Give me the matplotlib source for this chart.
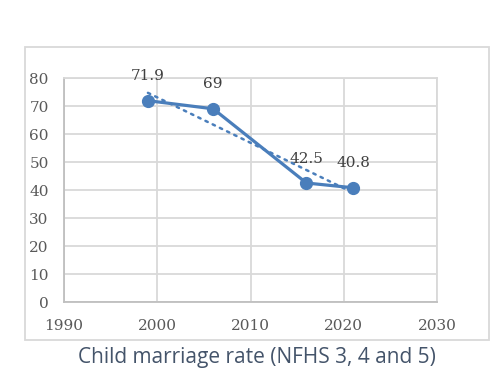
import matplotlib
matplotlib.use("Agg")
import matplotlib.pyplot as plt
import numpy as np
from matplotlib.patches import Rectangle

# ── Datos ────────────────────────────────────────────────────────────────
years = [1999, 2006, 2016, 2021]
rates = [71.9, 69, 42.5, 40.8]
labels = ["71.9", "69", "42.5", "40.8"]
x_ticks = [1990, 2000, 2010, 2020, 2030]
y_ticks = [0, 10, 20, 30, 40, 50, 60, 70, 80]
title = "Child marriage rate (NFHS 3, 4 and 5)"

blue = "#4A7EBB"
grid = "#D9D9D9"

fig = plt.figure(figsize=(5.04, 3.84), dpi=100)

# borde del área del gráfico
fig.patches.append(Rectangle((25 / 504, 1 - 340 / 384), 464 / 504, 293 / 384,
                             transform=fig.transFigure, fill=False,
                             edgecolor=grid, linewidth=1.3))

ax = fig.add_axes([64 / 504, 1 - 302 / 384, 373 / 504, 224 / 384])

# línea de tendencia lineal
coef = np.polyfit(years, rates, 1)
tx = np.array([years[0], years[-1]])
ax.plot(tx, np.polyval(coef, tx), linestyle=(0, (1, 2.2)), color=blue,
        linewidth=1.8, dash_capstyle="round", zorder=2)

ax.plot(years, rates, color=blue, linewidth=2.3, marker="o",
        markersize=8.5, zorder=3)

for x, y, t in zip(years, rates, labels):
    ax.annotate(t, (x, y), xytext=(0, 17.5), textcoords="offset points",
                ha="center", va="center", fontsize=11,
                family="DejaVu Serif", color="#404040")

ax.set_xlim(1990, 2030)
ax.set_ylim(0, 80)
ax.set_xticks(x_ticks)
ax.set_yticks(y_ticks)
ax.grid(True, color=grid, linewidth=1.3)
ax.set_axisbelow(True)
for side in ["top", "right"]:
    ax.spines[side].set_color(grid)
    ax.spines[side].set_linewidth(1.3)
for side in ["left", "bottom"]:
    ax.spines[side].set_color("#BFBFBF")
    ax.spines[side].set_linewidth(1.3)
ax.tick_params(length=0, labelsize=11, labelcolor="#595959")
ax.tick_params(axis="x", pad=12)
ax.tick_params(axis="y", pad=11)
for lab in ax.get_xticklabels() + ax.get_yticklabels():
    lab.set_family("DejaVu Serif")

fig.text(257 / 504, 1 - 358 / 384, title, ha="center", va="center",
         fontsize=15, family="Open Sans", color="#44546A")

plt.savefig("out.png", dpi=100)
